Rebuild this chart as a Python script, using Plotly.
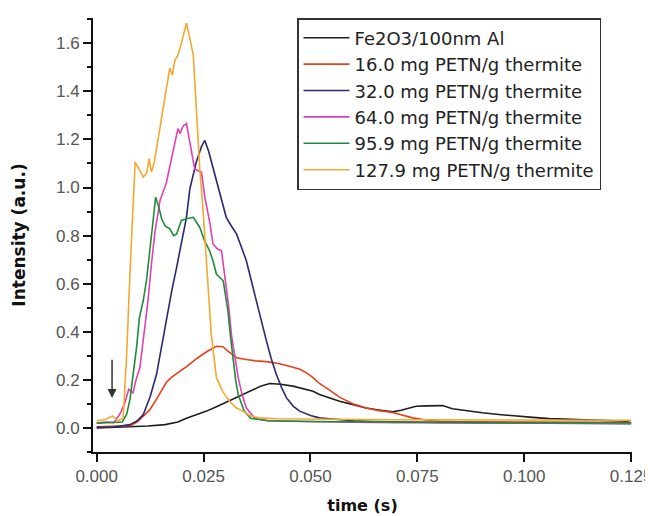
import plotly.graph_objects as go

names = ["Fe2O3/100nm Al", "16.0 mg PETN/g thermite", "32.0 mg PETN/g thermite",
         "64.0 mg PETN/g thermite", "95.9 mg PETN/g thermite", "127.9 mg PETN/g thermite"]
colors = ["#1e1e1e", "#e8401c", "#2b2870", "#e040b0", "#1f8c3a", "#f5a830"]

t_black = [0, 0.004, 0.008, 0.012, 0.016, 0.019, 0.021, 0.0235, 0.0257, 0.028, 0.030, 0.032, 0.034,
           0.0366, 0.0385, 0.0405, 0.043, 0.0459, 0.0475, 0.0506, 0.0521, 0.0545, 0.0568, 0.060, 0.063,
           0.066, 0.0692, 0.0712, 0.0731, 0.0747, 0.077, 0.079, 0.0809, 0.0832, 0.0865, 0.0902, 0.094,
           0.098, 0.102, 0.1058, 0.110, 0.114, 0.118, 0.1245]
v_black = [0.0, 0.002, 0.004, 0.008, 0.014, 0.025, 0.04, 0.055, 0.07, 0.088, 0.105, 0.122, 0.14,
           0.16, 0.175, 0.185, 0.182, 0.174, 0.167, 0.153, 0.139, 0.125, 0.111, 0.097, 0.083,
           0.075, 0.067, 0.074, 0.083, 0.09, 0.092, 0.093, 0.093, 0.08, 0.071, 0.063, 0.056,
           0.049, 0.044, 0.039, 0.036, 0.033, 0.031, 0.028]

t_red = [0, 0.004, 0.008, 0.0095, 0.0109, 0.0124, 0.014, 0.0155, 0.0163, 0.0175, 0.0187, 0.021, 0.0235,
         0.026, 0.028, 0.0295, 0.031, 0.0327, 0.035, 0.0373, 0.0397, 0.0425, 0.0451, 0.0475, 0.049,
         0.0506, 0.0521, 0.0537, 0.0568, 0.060, 0.063, 0.066, 0.0692, 0.0715, 0.0739, 0.077, 0.0801,
         0.085, 0.09, 0.095, 0.10, 0.105, 0.11, 0.115, 0.12, 0.125]
v_red = [0.005, 0.006, 0.01, 0.025, 0.05, 0.075, 0.12, 0.165, 0.19, 0.21, 0.225, 0.255, 0.29,
         0.32, 0.34, 0.338, 0.315, 0.292, 0.285, 0.279, 0.276, 0.268, 0.257, 0.244, 0.23,
         0.209, 0.185, 0.167, 0.128, 0.1, 0.083, 0.072, 0.064, 0.052, 0.042, 0.033, 0.028,
         0.026, 0.025, 0.024, 0.024, 0.023, 0.023, 0.022, 0.022, 0.022]

t_navy = [0, 0.004, 0.0078, 0.0095, 0.0109, 0.0125, 0.014, 0.0152, 0.0163, 0.0175, 0.0187, 0.0198,
          0.021, 0.0218, 0.0233, 0.0245, 0.0253, 0.0262, 0.0272, 0.028, 0.0288, 0.0303, 0.0315,
          0.0327, 0.0338, 0.035, 0.0362, 0.0373, 0.0385, 0.0397, 0.0408, 0.042, 0.0432, 0.0444,
          0.046, 0.0475, 0.050, 0.0521, 0.0545, 0.0568, 0.060, 0.065, 0.07, 0.08, 0.09, 0.10, 0.11, 0.125]
v_navy = [0.003, 0.004, 0.014, 0.03, 0.056, 0.13, 0.223, 0.34, 0.459, 0.565, 0.668, 0.77,
          0.876, 0.995, 1.106, 1.17, 1.196, 1.15, 1.085, 1.03, 0.974, 0.876, 0.84,
          0.807, 0.755, 0.695, 0.61, 0.529, 0.445, 0.362, 0.29, 0.223, 0.17, 0.125,
          0.09, 0.07, 0.052, 0.042, 0.038, 0.035, 0.03, 0.027, 0.025, 0.023, 0.022, 0.02, 0.02, 0.018]

t_pink = [0, 0.002, 0.004, 0.0054, 0.0065, 0.0075, 0.0085, 0.0092, 0.0101, 0.011, 0.012, 0.0128,
          0.0136, 0.0148, 0.0163, 0.0175, 0.0183, 0.019, 0.0195, 0.0202, 0.021, 0.0218, 0.0229,
          0.0237, 0.0245, 0.0253, 0.0265, 0.0272, 0.0282, 0.0292, 0.0303, 0.0309, 0.0315, 0.0323,
          0.0331, 0.034, 0.035, 0.037, 0.04, 0.045, 0.05, 0.06, 0.07, 0.08, 0.09, 0.1, 0.11, 0.125]
v_pink = [0.02, 0.025, 0.022, 0.057, 0.1, 0.16, 0.146, 0.2, 0.25, 0.38, 0.529, 0.68,
          0.81, 0.945, 1.02, 1.12, 1.18, 1.245, 1.225, 1.255, 1.266, 1.19, 1.078,
          1.07, 1.064, 0.96, 0.85, 0.765, 0.745, 0.737, 0.598, 0.5, 0.39, 0.3,
          0.209, 0.14, 0.083, 0.04, 0.03, 0.028, 0.026, 0.024, 0.022, 0.022, 0.021, 0.02, 0.02, 0.02]

t_green = [0, 0.004, 0.006, 0.007, 0.0078, 0.0085, 0.0093, 0.01, 0.0109, 0.0117, 0.0124, 0.0132,
           0.0138, 0.0145, 0.0152, 0.016, 0.0171, 0.018, 0.0187, 0.0198, 0.021, 0.0226, 0.0241,
           0.0252, 0.0264, 0.0272, 0.028, 0.0296, 0.0307, 0.0313, 0.0319, 0.0325, 0.0331, 0.0338,
           0.0345, 0.036, 0.04, 0.05, 0.06, 0.07, 0.08, 0.09, 0.1, 0.11, 0.125]
v_green = [0.02, 0.022, 0.025, 0.056, 0.12, 0.22, 0.33, 0.46, 0.53, 0.62, 0.737, 0.85,
           0.96, 0.92, 0.87, 0.84, 0.828, 0.8, 0.807, 0.863, 0.87, 0.876, 0.835,
           0.78, 0.737, 0.695, 0.64, 0.612, 0.487, 0.38, 0.278, 0.2, 0.139, 0.1,
           0.07, 0.04, 0.03, 0.027, 0.025, 0.024, 0.023, 0.022, 0.022, 0.022, 0.022]

t_yellow = [0, 0.002, 0.0037, 0.005, 0.0062, 0.007, 0.0078, 0.0085, 0.009, 0.0098, 0.0109, 0.0117,
            0.0123, 0.0128, 0.0134, 0.014, 0.0152, 0.0162, 0.0171, 0.0177, 0.0183, 0.019, 0.0198,
            0.021, 0.0218, 0.0226, 0.0233, 0.0241, 0.0249, 0.0257, 0.0262, 0.0268, 0.0274, 0.028,
            0.0295, 0.0311, 0.0325, 0.0342, 0.036, 0.038, 0.042, 0.05, 0.06, 0.07, 0.08, 0.09, 0.1,
            0.11, 0.125]
v_yellow = [0.03, 0.035, 0.05, 0.03, 0.04, 0.3, 0.65, 0.95, 1.106, 1.08, 1.043, 1.06,
            1.12, 1.064, 1.1, 1.162, 1.30, 1.40, 1.496, 1.468, 1.53, 1.55, 1.6,
            1.683, 1.62, 1.55, 1.33, 1.08, 0.9, 0.668, 0.52, 0.39, 0.3, 0.209,
            0.15, 0.111, 0.085, 0.07, 0.05, 0.042, 0.038, 0.036, 0.035, 0.034, 0.034, 0.033, 0.033,
            0.032, 0.032]

series_t = [t_black, t_red, t_navy, t_pink, t_green, t_yellow]
series_v = [v_black, v_red, v_navy, v_pink, v_green, v_yellow]

x_ticks = [0.0, 0.025, 0.05, 0.075, 0.1, 0.125]
y_ticks = [0.0, 0.2, 0.4, 0.6, 0.8, 1.0, 1.2, 1.4, 1.6]

arrow_x = 0.0036
arrow_y_from = 0.29
arrow_y_to = 0.125

fig = go.Figure()
for i, (tt, vv) in enumerate(zip(series_t, series_v)):
    fig.add_trace(go.Scatter(x=tt, y=vv, mode="lines", name=names[i],
                             line=dict(color=colors[i], width=1.6)))

fig.add_annotation(x=arrow_x, y=arrow_y_to, ax=arrow_x, ay=arrow_y_from,
                   xref="x", yref="y", axref="x", ayref="y", text="",
                   showarrow=True, arrowhead=2, arrowsize=1.2, arrowwidth=1.5, arrowcolor="#333333")

# page body has an 8px margin, so the figure is offset by 8px
fig.update_layout(
    width=645, height=508,
    margin=dict(l=85, r=21, t=10, b=64),
    paper_bgcolor="white", plot_bgcolor="white",
    font=dict(family="Liberation Sans, Arial, sans-serif", color="#222222"),
    legend=dict(x=0.3785, y=1.0, xanchor="left", yanchor="top",
                bordercolor="#333333", borderwidth=1.5, bgcolor="white",
                font=dict(size=18, family="DejaVu Sans", color="#222222"),
                itemwidth=46),
    xaxis=dict(range=[-0.00086, 0.1252], tickvals=x_ticks, tickformat=".3f", automargin=False,
               showgrid=False, zeroline=False, showline=True, linecolor="#111111", linewidth=2,
               ticks="outside", ticklen=8, tickwidth=2, tickcolor="#111111",
               tickfont=dict(size=17, color="#555555"),
               title=dict(text="<b>time (s)</b>", font=dict(size=16, family="DejaVu Sans", color="#111111"),
                          standoff=14)),
    yaxis=dict(range=[-0.1, 1.705], tickvals=y_ticks, tickformat=".1f", automargin=False,
               showgrid=False, zeroline=False, showline=True, linecolor="#111111", linewidth=2,
               ticks="outside", ticklen=8, tickwidth=2, tickcolor="#111111",
               tickfont=dict(size=17, color="#555555"),
               minor=dict(dtick=0.1, tick0=0.1, ticks="outside", ticklen=4, tickwidth=1.5, tickcolor="#111111"),
               title=dict(text="<b>Intensity (a.u.)</b>", font=dict(size=17, family="DejaVu Sans", color="#111111"),
                          standoff=26)),
)

fig.write_html("out.html")
